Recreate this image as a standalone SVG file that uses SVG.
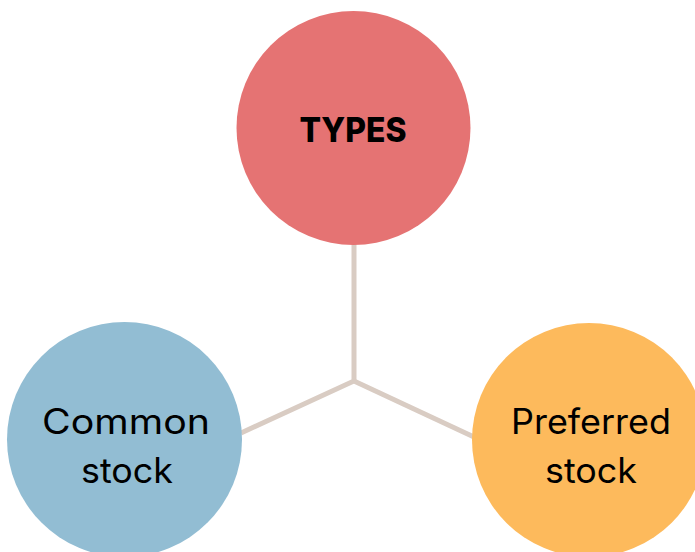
<svg xmlns="http://www.w3.org/2000/svg" width="695" height="552" viewBox="0 0 695 552">
  <style>
    .label { font-family: "Inter", "Noto Sans", "Liberation Sans", sans-serif; fill: #000; text-anchor: middle; }
    .title { font-size: 34px; font-weight: 800; }
    .item { font-size: 35px; font-weight: 400; }
    .link { fill: none; stroke: #d9ccc3; stroke-width: 5; stroke-linejoin: miter; stroke-linecap: butt; }
  </style>
  <rect width="695" height="552" fill="#ffffff"/>
  <g id="connectors">
    <polyline class="link" points="354,244 354,381 241,433"/>
    <line class="link" x1="354" y1="381" x2="474" y2="437"/>
  </g>
  <g id="types">
    <circle cx="353.5" cy="128" r="117" fill="#e57373"/>
    <text class="label title" x="353" y="142" textLength="107" lengthAdjust="spacingAndGlyphs">TYPES</text>
  </g>
  <g id="common-stock">
    <circle cx="124.5" cy="439.5" r="117.5" fill="#92bdd3"/>
    <text class="label item" x="126" y="434" textLength="168" lengthAdjust="spacingAndGlyphs">Common</text>
    <text class="label item" x="127" y="483" textLength="92" lengthAdjust="spacingAndGlyphs">stock</text>
  </g>
  <g id="preferred-stock">
    <circle cx="589" cy="440" r="117" fill="#fdba5c"/>
    <text class="label item" x="591" y="434" textLength="160" lengthAdjust="spacingAndGlyphs">Preferred</text>
    <text class="label item" x="591" y="483" textLength="92" lengthAdjust="spacingAndGlyphs">stock</text>
  </g>
</svg>
